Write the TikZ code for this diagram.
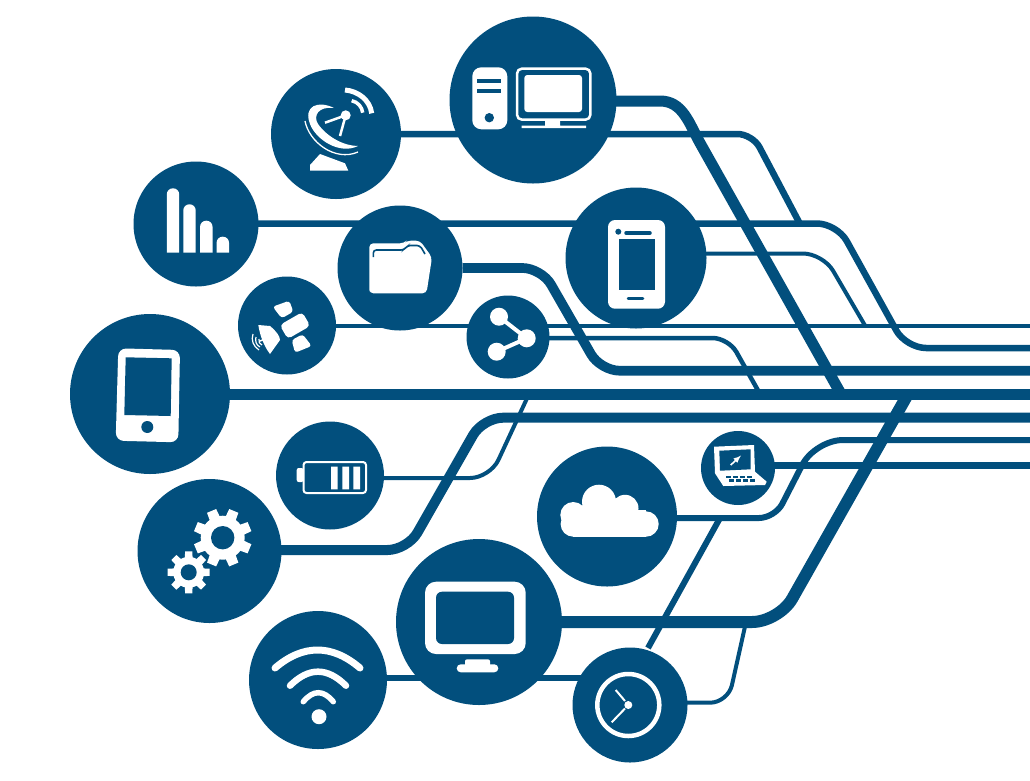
\documentclass[tikz,border=0pt]{standalone}
\usepackage{xcolor}
\usetikzlibrary{backgrounds}
\definecolor{netblue}{HTML}{024F7D}
\tikzset{
    hub/.style={circle, fill=netblue, inner sep=0pt, minimum size=#1},
    wire/.style={draw=netblue, line width=#1},
    icon/.style={fill=white, draw=none},
    iconhole/.style={fill=netblue, draw=none},
    iconline/.style={draw=white, line width=#1},
    holeline/.style={draw=netblue, line width=#1}
}
\newcommand{\cogwheel}[5]{% centre, tooth reach, body radius, hole radius, offset
    \foreach \a in {0,45,...,315}
        \fill[icon, shift={(#1)}, rotate=\a+#5] (-0.22*#2,0) -- (-0.17*#2,#2) -- (0.17*#2,#2) -- (0.22*#2,0) -- cycle;
    \fill[icon] (#1) circle (#3pt);
    \fill[iconhole] (#1) circle (#4pt);
}
\begin{document}
\begin{tikzpicture}[x=1pt, y=-1pt]
    \useasboundingbox (0,0) rectangle (1030,780);

    % Circles
    \node[hub=167pt] (desktop) at (533,100) {};
    \node[hub=130pt] (dish) at (336,134) {};
    \node[hub=125pt] (bars) at (196,224) {};
    \node[hub=125pt] (folder) at (400,268) {};
    \node[hub=141pt] (phone) at (636,258) {};
    \node[hub=98pt] (satellite) at (287,325.5) {};
    \node[hub=83pt] (share) at (508,337) {};
    \node[hub=160pt] (tablet) at (150,394) {};
    \node[hub=108pt] (battery) at (330,475.5) {};
    \node[hub=144pt] (gears) at (209.5,551) {};
    \node[hub=140pt] (cloud) at (607,516.5) {};
    \node[hub=74pt] (laptop) at (738,468) {};
    \node[hub=166pt] (monitor) at (479,622) {};
    \node[hub=138pt] (wifi) at (318,680) {};
    \node[hub=115pt] (clock) at (630,705) {};

    % Bends and free ends of the wires
    \coordinate (desktopBendA) at (660,101);
    \coordinate (desktopBendB) at (700,143);
    \coordinate (desktopEnd) at (841,394);
    \coordinate (dishBend) at (752.5,134);
    \coordinate (dishEnd) at (800,224);
    \coordinate (barsBendA) at (837,223.5);
    \coordinate (barsBendB) at (906,348);
    \coordinate (barsEnd) at (1030,348);
    \coordinate (phoneBend) at (823,253.5);
    \coordinate (phoneEnd) at (865,325.5);
    \coordinate (folderBendA) at (541.5,268);
    \coordinate (folderBendB) at (600.5,370.7);
    \coordinate (folderEnd) at (1030,370.7);
    \coordinate (satelliteEnd) at (1030,325.5);
    \coordinate (shareBend) at (728.5,338);
    \coordinate (shareEnd) at (760,394);
    \coordinate (tabletEnd) at (1030,394);
    \coordinate (gearsBendA) at (407.5,550);
    \coordinate (gearsBendB) at (483,417.7);
    \coordinate (gearsEnd) at (1030,417.7);
    \coordinate (batteryBend) at (490,478);
    \coordinate (batteryEnd) at (529,394);
    \coordinate (cloudBendA) at (775,518);
    \coordinate (cloudBendB) at (815,440);
    \coordinate (cloudEnd) at (1030,440);
    \coordinate (laptopEnd) at (1030,465.3);
    \coordinate (monitorBend) at (779,622);
    \coordinate (monitorEnd) at (908,394);
    \coordinate (clockFoot) at (648,648);
    \coordinate (clockEnd) at (720,518);
    \coordinate (clockBend) at (728,702.7);
    \coordinate (clockTop) at (746,622);
    \coordinate (wifiRail) at (0,678);

    % Wires go behind the circles
    \begin{scope}[on background layer]
        \draw[wire=11pt] (desktop |- desktopBendA) -- (desktopBendA) to[out=0, in=119] (desktopBendB) -- (desktopEnd);
        \draw[wire=6.5pt, rounded corners=15pt] (dish) -- (dishBend) -- (dishEnd);
        \draw[wire=6.5pt, rounded corners=20pt] (bars |- barsBendA) -- (barsBendA) -- (barsBendB) -- (barsEnd);
        \draw[wire=4pt, rounded corners=20pt] (phone |- phoneBend) -- (phoneBend) -- (phoneEnd);
        \draw[wire=9.7pt, rounded corners=19pt] (folder) -- (folderBendA) -- (folderBendB) -- (folderEnd);
        \draw[wire=4pt] (satellite) -- (satelliteEnd);
        \draw[wire=4.5pt, rounded corners=16pt] (share |- shareBend) -- (shareBend) -- (shareEnd);
        \draw[wire=11pt] (tablet) -- (tabletEnd);
        \draw[wire=10pt, rounded corners=20pt] (gears |- gearsBendA) -- (gearsBendA) -- (gearsBendB) -- (gearsEnd);
        \draw[wire=4pt, rounded corners=20pt] (battery |- batteryBend) -- (batteryBend) -- (batteryEnd);
        \draw[wire=6pt, rounded corners=16pt] (cloud |- cloudBendA) -- (cloudBendA) [rounded corners=28pt] -- (cloudBendB) -- (cloudEnd);
        \draw[wire=6.5pt] (laptop |- laptopEnd) -- (laptopEnd);
        \draw[wire=12pt, rounded corners=27pt] (monitor) -- (monitorBend) -- (monitorEnd);
        \draw[wire=6pt] (clockFoot) -- (clockEnd);
        \draw[wire=4pt, rounded corners=18pt] (clock |- clockBend) -- (clockBend) -- (clockTop);
        \draw[wire=6pt] (wifi |- wifiRail) -- (clock |- wifiRail);
    \end{scope}

    % Desktop computer
    \fill[icon, rounded corners=9pt] (472.3,67.3) rectangle (507.3,129.3);
    \draw[holeline=3.5pt] (477,81) -- (501,81) (477,91) -- (501,91);
    \fill[iconhole] (489.3,117.7) circle (4.7pt);
    \draw[iconline=2.5pt, rounded corners=5pt] (517,68.6) rectangle (590.4,119.7);
    \fill[icon, rounded corners=3pt] (524.3,75) rectangle (582,112);
    \fill[icon] (545,120) rectangle (560,127) (521.7,125.7) rectangle (586,128);

    % Dish antenna
    \fill[icon] (310,170.7) -- (348.3,170.7) -- (345,163.3) -- (320,154) -- (310,165) -- cycle;
    \fill[icon] (334,108) .. controls (318,100) and (303,106) .. (310,124) .. controls (316,140) and (340,155) .. (358,146)
        .. controls (345,146) and (328,138) .. (318,124) .. controls (313,116) and (318,106) .. (334,108) -- cycle;
    \draw[iconline=1.3pt] (305,121) .. controls (309,142) and (335,162) .. (358,152);
    \fill[icon] (345.7,115.3) circle (5pt);
    \draw[iconline=2.5pt] (345.7,115.3) -- (325,122.7) (345.7,115.3) -- (340,136);
    \draw[iconline=3.5pt] (351.7,100.7) .. controls (358,102) and (362,107) .. (362.7,112.7);
    \draw[iconline=5pt] (345,90) .. controls (358,91) and (370,100) .. (371.7,113.3);

    % Signal bars
    \foreach \x/\t in {173/188.3, 189.5/204.3, 206.3/220.7, 222.8/236.7}
        \fill[icon] (\x-6.2,252.7) [rounded corners=6pt] -- (\x-6.2,\t) -- (\x+6.2,\t) [sharp corners] -- (\x+6.2,252.7) -- cycle;

    % Folder
    \fill[icon, rounded corners=4pt] (369.3,288) -- (369.3,243.3) -- (404,243.3) -- (406.7,240.7) -- (420,240.7) -- (426.7,250) -- (432,257.3) -- (426.5,293.3) -- (369.3,293.3) -- cycle;
    \draw[holeline=1.6pt, rounded corners=3pt] (373.3,257) -- (373.3,250) -- (404,250) -- (407.5,245.5) -- (420,245.5) -- (425,254);

    % Smart phone
    \fill[icon, rounded corners=7pt] (608,220) rectangle (665,308.7);
    \fill[iconhole] (619.3,239.3) rectangle (655,290);
    \fill[iconhole] (618.3,231.7) circle (3pt);
    \draw[holeline=3.5pt, line cap=round] (626,233) -- (650,233);
    \draw[holeline=2.5pt, line cap=round] (628,298.7) -- (643,298.7);

    % Satellite
    \fill[icon, rounded corners=4pt, shift={(295,325.5)}, rotate=30] (-13,-8) rectangle (13,8);
    \fill[icon, rounded corners=3pt] (272.7,306.7) -- (289.3,300.7) -- (293.3,311.7) -- (281.7,318.3) -- cycle;
    \fill[icon, rounded corners=3pt] (291.7,340) -- (302.7,334.3) -- (311.7,346) -- (295,352.7) -- cycle;
    \fill[icon] (258.3,325) -- (270,326) .. controls (276,331) and (280,336) .. (280,340) -- (270,354) .. controls (264,346) and (260,336) .. (258.3,325) -- cycle;
    \draw[iconline=1.2pt] (253,334) .. controls (251,340) and (253,346) .. (259,350)
        (256,337) .. controls (255,341) and (256,345) .. (260,347)
        (259,339) .. controls (258,342) and (260,344) .. (262,345);
    \draw[iconline=1.5pt] (260,341) -- (265,339);

    % Share
    \draw[iconline=4pt] (499,316.7) -- (526.7,338.3) -- (496.7,351.7);
    \fill[icon] (499,316.7) circle (9pt) (526.7,338.3) circle (9pt) (496.7,351.7) circle (9pt);

    % Tablet
    \fill[icon, rounded corners=8pt] (118.3,348.3) -- (180,350) -- (178.3,442.3) -- (115.7,440.7) -- cycle;
    \fill[iconhole] (125.7,357.3) -- (171.7,358.3) -- (170.7,416) -- (124.3,415) -- cycle;
    \fill[iconhole] (147.3,427) circle (6pt);

    % Battery
    \draw[iconline=2pt, rounded corners=3pt] (303.5,462) rectangle (366,493);
    \fill[icon, rounded corners=2pt] (296.7,468) rectangle (303.5,482);
    \fill[icon] (331,466.7) rectangle (337.7,489.3) (342.3,466.7) rectangle (349,489.3) (353.3,466.7) rectangle (360,489.3);

    % Gears
    \coordinate (gearBig) at (222.7,537.7);
    \coordinate (gearSmall) at (188.7,572.3);
    \cogwheel{gearBig}{29}{22}{11.7}{22.5}
    \cogwheel{gearSmall}{21}{15.5}{8}{0}

    % Cloud
    \fill[icon] (573.3,524) circle (12.7pt) (573.3,515) circle (13pt) (599,501.7) circle (17pt)
        (625,508.3) circle (13.5pt) (646,524) circle (12.7pt);
    \fill[icon] (573.3,510) rectangle (646,536.7);

    % Laptop
    \fill[icon] (714,446.7) -- (754,445) -- (755,471.7) -- (766.7,481.7) -- (765,485) -- (723.3,486) -- (715,473.3) -- cycle;
    \fill[iconhole] (719.3,450.7) -- (750.7,449.3) -- (750.7,469.3) -- (720,470.7) -- cycle;
    \foreach \i in {0,...,3} {
        \fill[iconhole] (725.5+\i*7,475.5) rectangle (730.5+\i*7,477.8);
        \fill[iconhole] (729+\i*7,479.3) rectangle (734+\i*7,481.6);
    }
    \draw[iconline=1.6pt, -latex] (730.7,465) -- (741,455.5);

    % Monitor
    \fill[icon, rounded corners=11pt] (425,581.7) rectangle (525.7,654);
    \fill[iconhole, rounded corners=6pt] (436,591.7) rectangle (514,644);
    \fill[icon, rounded corners=2pt] (465,659.3) rectangle (490,668);
    \fill[icon, rounded corners=4pt] (456.7,664.3) rectangle (498.3,672.3);

    % Wifi
    \fill[icon] (319,716.7) circle (7.5pt);
    \draw[iconline=5.5pt, line cap=round] (303.3,701.7) .. controls (313.3,689.7) and (323.3,689.7) .. (333.3,701.7);
    \draw[iconline=6.5pt, line cap=round] (290,685.7) .. controls (308.7,667) and (327.3,667) .. (346,685.7);
    \draw[iconline=7pt, line cap=round] (275,668) .. controls (303,644) and (332,644) .. (360,668);

    % Clock
    \draw[iconline=4.5pt] (628.3,705) circle (31pt);
    \fill[icon] (628.3,705) circle (4pt);
    \draw[iconline=2pt] (625,701) -- (615.7,690) (625,708.5) -- (611.7,722.3);
\end{tikzpicture}
\end{document}
